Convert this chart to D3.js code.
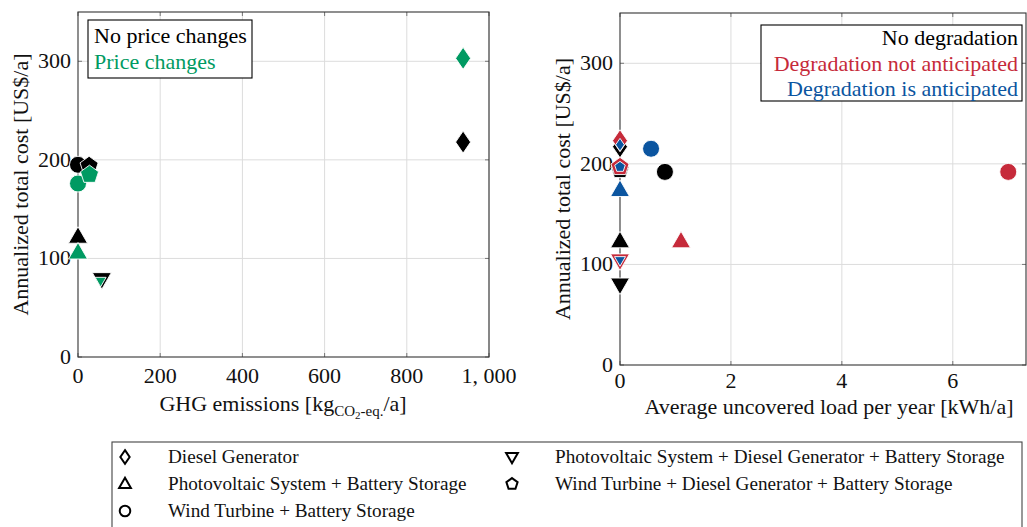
<!DOCTYPE html>
<html>
<head>
<meta charset="utf-8">
<script src="https://cdn.jsdelivr.net/npm/d3@7"></script>
<style>
  html, body { margin: 0; padding: 0; background: #fff; }
  svg { display: block; font-family: 'Liberation Serif', 'Times New Roman', serif; }
</style>
</head>
<body>
<svg id="chart" width="1027" height="527"></svg>
<script>
// Technologies (same order everywhere)
const TECHS = [
  'Diesel Generator',
  'Photovoltaic System + Battery Storage',
  'Wind Turbine + Battery Storage',
  'Photovoltaic System + Diesel Generator + Battery Storage',
  'Wind Turbine + Diesel Generator + Battery Storage'
]
const SHAPES = ['diamond', 'triangle', 'circle', 'triangleDown', 'pentagon']

// Left panel: GHG emissions vs annualized cost
const GHG_NO_PRICE = [937, 0, 0, 58, 27]
const COST_NO_PRICE = [218, 122, 195, 79, 194]
const GHG_PRICE = [937, 0, 0, 55, 28]
const COST_PRICE = [303, 106, 176, 77, 185]

// Right panel: uncovered load vs annualized cost
const LOAD_NONE = [0, 0, 0.81, 0, 0]
const COST_NONE = [217, 123, 192, 80, 194]
const LOAD_NOT_ANT = [0, 1.1, 7.0, 0, 0]
const COST_NOT_ANT = [223, 123, 192, 104, 197]
const LOAD_ANT = [0, 0, 0.56, 0, 0]
const COST_ANT = [219, 174, 215, 104, 197]

const LEFT_X_TICKS = [0, 200, 400, 600, 800, 1000]
const LEFT_X_LABELS = ['0', '200', '400', '600', '800', '1, 000']
const RIGHT_X_TICKS = [0, 2, 4, 6]
const Y_TICKS = [0, 100, 200, 300]

const BLACK = '#000000'
const GREEN = '#009a62'
const RED = '#c62a3a'
const BLUE = '#0b55a0'
const FS = 22

const svg = d3.select('#chart')

function shapePath(shape, k) {
  const p = d3.path()
  if (shape === 'circle') {
    p.arc(0, 0, 8.5 * k, 0, 2 * Math.PI)
  } else if (shape === 'diamond') {
    p.moveTo(0, -11 * k); p.lineTo(7.5 * k, 0); p.lineTo(0, 11 * k); p.lineTo(-7.5 * k, 0)
  } else if (shape === 'triangle') {
    p.moveTo(0, -10 * k); p.lineTo(9.5 * k, 6.5 * k); p.lineTo(-9.5 * k, 6.5 * k)
  } else if (shape === 'triangleDown') {
    p.moveTo(0, 10 * k); p.lineTo(9.5 * k, -6.5 * k); p.lineTo(-9.5 * k, -6.5 * k)
  } else if (shape === 'pentagon') {
    for (let i = 0; i < 5; i++) {
      const a = -Math.PI / 2 + i * 2 * Math.PI / 5
      const x = Math.cos(a) * 9.5 * k, y = Math.sin(a) * 9.5 * k
      i ? p.lineTo(x, y) : p.moveTo(x, y)
    }
  }
  p.closePath()
  return p.toString()
}

function drawPanel(cfg) {
  const { left, right, top, bottom, xDomain, xTicks, xLabels } = cfg
  const x = d3.scaleLinear().domain(xDomain).range([left, right])
  const y = d3.scaleLinear().domain([0, 350]).range([bottom, top])
  const g = svg.append('g')

  // grid
  g.selectAll('.gx').data(xTicks.slice(1)).enter().append('line')
    .attr('x1', d => x(d)).attr('x2', d => x(d)).attr('y1', top).attr('y2', bottom)
    .attr('stroke', '#dcdcdc').attr('stroke-width', 1)
  g.selectAll('.gy').data(Y_TICKS.slice(1)).enter().append('line')
    .attr('x1', left).attr('x2', right).attr('y1', d => y(d)).attr('y2', d => y(d))
    .attr('stroke', '#dcdcdc').attr('stroke-width', 1)

  // tick marks (inward, all sides)
  const tk = 4
  xTicks.forEach(t => {
    g.append('line').attr('x1', x(t)).attr('x2', x(t)).attr('y1', bottom).attr('y2', bottom - tk).attr('stroke', '#777')
    g.append('line').attr('x1', x(t)).attr('x2', x(t)).attr('y1', top).attr('y2', top + tk).attr('stroke', '#777')
  })
  Y_TICKS.forEach(t => {
    g.append('line').attr('x1', left).attr('x2', left + tk).attr('y1', y(t)).attr('y2', y(t)).attr('stroke', '#777')
    g.append('line').attr('x1', right).attr('x2', right - tk).attr('y1', y(t)).attr('y2', y(t)).attr('stroke', '#777')
  })

  // frame
  g.append('rect').attr('x', left).attr('y', top).attr('width', right - left).attr('height', bottom - top)
    .attr('fill', 'none').attr('stroke', '#333').attr('stroke-width', 1.1)

  // tick labels
  g.selectAll('.xl').data(xTicks).enter().append('text')
    .attr('x', d => x(d)).attr('y', bottom + cfg.xTickDy)
    .attr('text-anchor', 'middle').attr('font-size', FS).attr('fill', '#111')
    .text((d, i) => xLabels[i])
  g.selectAll('.yl').data(Y_TICKS).enter().append('text')
    .attr('x', left - 7).attr('y', d => y(d) + 7)
    .attr('text-anchor', 'end').attr('font-size', FS).attr('fill', '#111')
    .text(d => d)

  // y label
  g.append('text')
    .attr('transform', `translate(${left - 50},${(top + bottom) / 2}) rotate(-90)`)
    .attr('text-anchor', 'middle').attr('font-size', FS).attr('fill', '#111')
    .text('Annualized total cost [US$/a]')

  // series markers
  const placed = []
  const last = cfg.series.length - 1
  cfg.series.forEach((s, si) => {
    s.xs.forEach((xv, i) => {
      const px = x(xv), py = y(s.ys[i])
      // top-most series drawn smaller where it sits on the previous series' marker
      let k = 1
      if (si === last && si > 0) {
        const prev = placed.find(q => q.si === si - 1 && q.i === i)
        if (prev && Math.hypot(prev.px - px, prev.py - py) < 7) k = 0.58
      }
      placed.push({ si, i, px, py })
      g.append('path')
        .attr('d', shapePath(SHAPES[i], k))
        .attr('transform', `translate(${px},${py})`)
        .attr('fill', s.color)
        .attr('stroke', '#fff').attr('stroke-width', 0.9)
    })
  })

  // legend box
  const lg = cfg.legend
  g.append('rect').attr('x', lg.x).attr('y', lg.y).attr('width', lg.w).attr('height', lg.h)
    .attr('fill', '#fff').attr('stroke', '#000').attr('stroke-width', 1.1)
  cfg.series.forEach((s, si) => {
    g.append('text')
      .attr('x', lg.anchor === 'end' ? lg.x + lg.w - 4 : lg.x + 6)
      .attr('y', lg.y + lg.first + si * 25.5)
      .attr('text-anchor', lg.anchor).attr('font-size', FS)
      .attr('fill', s.color).text(s.name)
  })
  return { x, y, g }
}

// Left panel
const L = drawPanel({
  left: 78, right: 489, top: 12, bottom: 357, xTickDy: 26,
  xDomain: [0, 1000], xTicks: LEFT_X_TICKS, xLabels: LEFT_X_LABELS,
  series: [
    { name: 'No price changes', color: BLACK, xs: GHG_NO_PRICE, ys: COST_NO_PRICE },
    { name: 'Price changes', color: GREEN, xs: GHG_PRICE, ys: COST_PRICE }
  ],
  legend: { x: 88, y: 20, w: 164, h: 58, anchor: 'start', first: 23 }
})
const lxl = L.g.append('text').attr('x', 283).attr('y', 411).attr('text-anchor', 'middle')
  .attr('font-size', FS).attr('fill', '#111')
lxl.append('tspan').text('GHG emissions [kg')
lxl.append('tspan').attr('font-size', 15).attr('dy', 5).text('CO')
lxl.append('tspan').attr('font-size', 11).attr('dy', 3).text('2')
lxl.append('tspan').attr('font-size', 15).attr('dy', -3).text('-eq.')
lxl.append('tspan').attr('dy', -5).text('/a]')

// Right panel
const R = drawPanel({
  left: 620, right: 1026, top: 13, bottom: 365, xTickDy: 23,
  xDomain: [0, 7.32], xTicks: RIGHT_X_TICKS, xLabels: RIGHT_X_TICKS.map(String),
  series: [
    { name: 'No degradation', color: BLACK, xs: LOAD_NONE, ys: COST_NONE },
    { name: 'Degradation not anticipated', color: RED, xs: LOAD_NOT_ANT, ys: COST_NOT_ANT },
    { name: 'Degradation is anticipated', color: BLUE, xs: LOAD_ANT, ys: COST_ANT }
  ],
  legend: { x: 761, y: 25, w: 261, h: 76, anchor: 'end', first: 20 }
})
R.g.append('text').attr('x', 829).attr('y', 414).attr('text-anchor', 'middle')
  .attr('font-size', FS).attr('fill', '#111')
  .text('Average uncovered load per year [kWh/a]')

// Bottom legend
const bl = svg.append('g')
bl.append('rect').attr('x', 112).attr('y', 442).attr('width', 910).attr('height', 100)
  .attr('fill', '#fff').attr('stroke', '#444').attr('stroke-width', 1.1)
const legendPos = [
  { sx: 125, tx: 168, y: 457 },
  { sx: 125, tx: 168, y: 484 },
  { sx: 125, tx: 168, y: 511 },
  { sx: 512, tx: 555, y: 457 },
  { sx: 512, tx: 555, y: 484 }
]
TECHS.forEach((name, i) => {
  const p = legendPos[i]
  bl.append('path').attr('d', shapePath(SHAPES[i], 0.62))
    .attr('transform', `translate(${p.sx},${p.y})`)
    .attr('fill', 'none').attr('stroke', '#000').attr('stroke-width', 2)
  bl.append('text').attr('x', p.tx).attr('y', p.y + 6).attr('font-size', 19.2).attr('fill', '#111').text(name)
})
</script>
</body>
</html>
